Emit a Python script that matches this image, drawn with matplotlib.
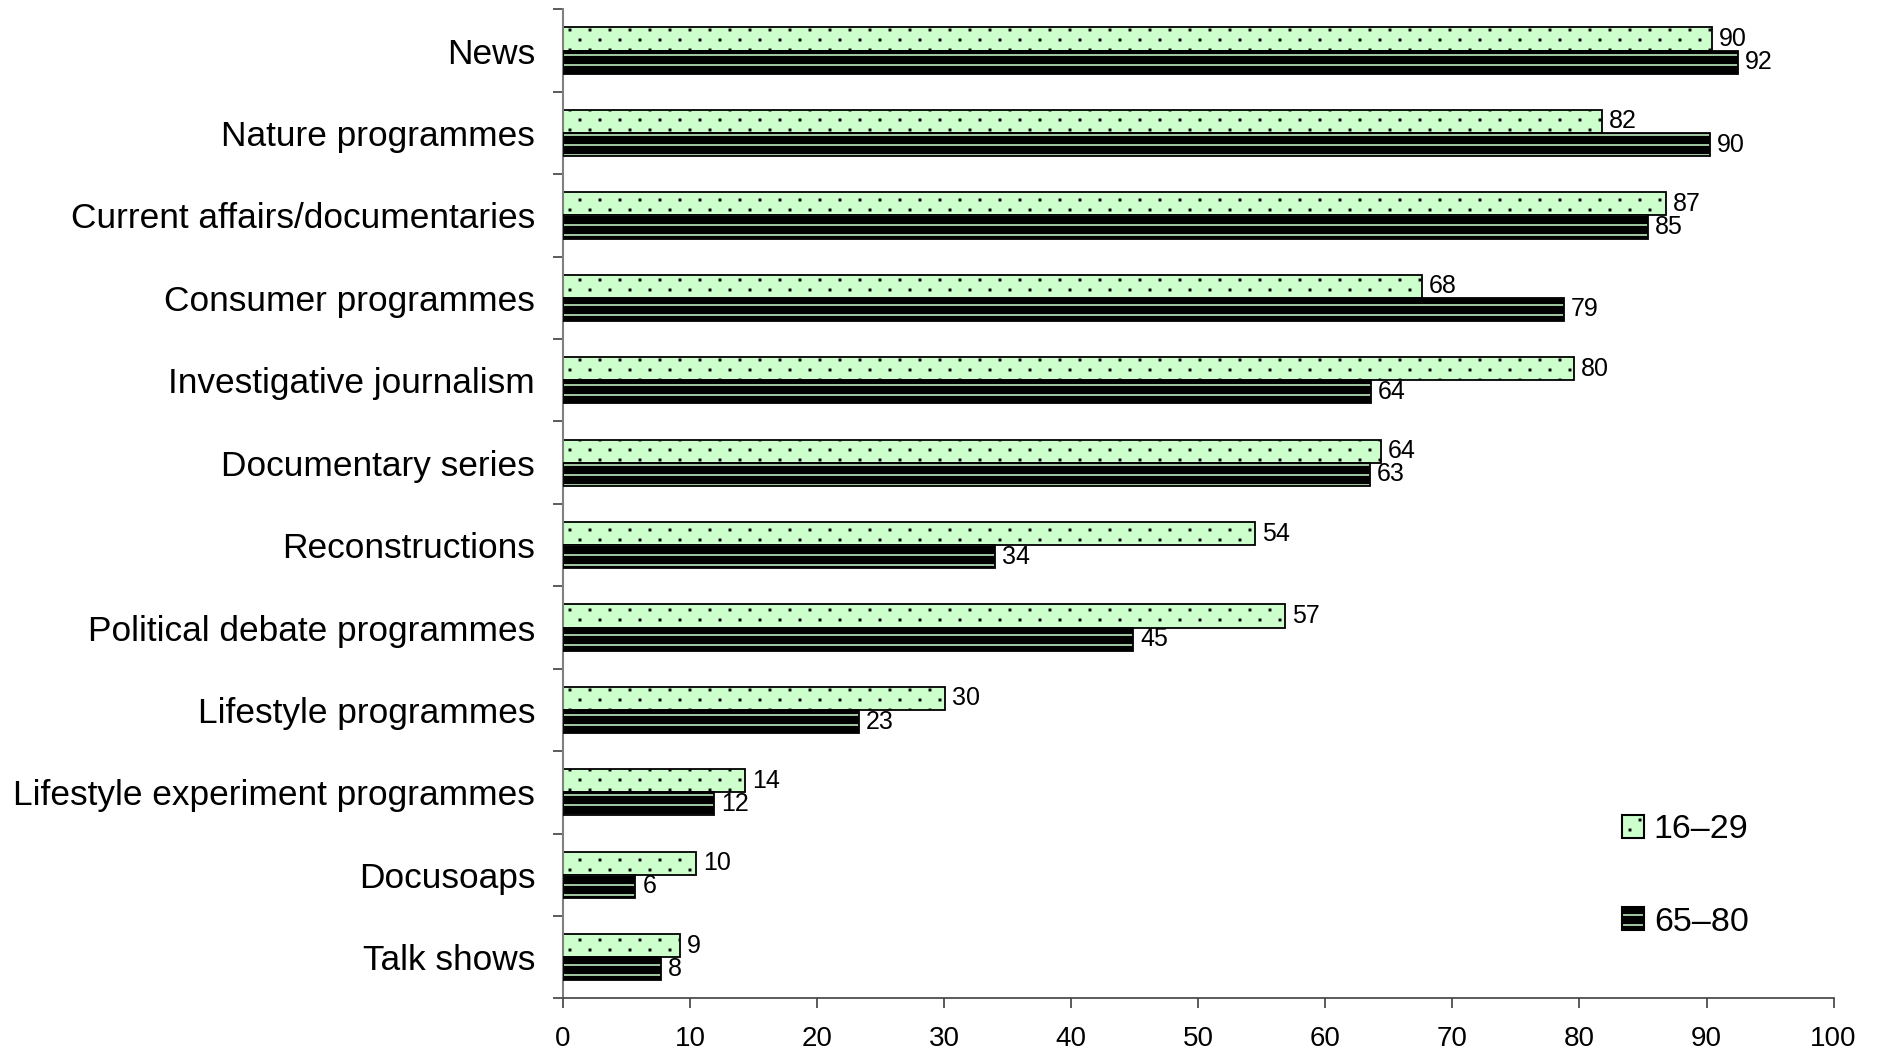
import matplotlib
matplotlib.use("Agg")
import matplotlib.pyplot as plt
import matplotlib.hatch as mhatch
from matplotlib.path import Path
from matplotlib.patches import Patch
from matplotlib.legend_handler import HandlerTuple
import numpy as np

categories = [
    "News",
    "Nature programmes",
    "Current affairs/documentaries",
    "Consumer programmes",
    "Investigative journalism",
    "Documentary series",
    "Reconstructions",
    "Political debate programmes",
    "Lifestyle programmes",
    "Lifestyle experiment programmes",
    "Docusoaps",
    "Talk shows",
]
# bar lengths
young_values = [90.4, 81.8, 86.8, 67.6, 79.6, 64.4, 54.5, 56.8, 30.1, 14.3, 10.5, 9.2]
old_values = [92.5, 90.3, 85.4, 78.8, 63.6, 63.5, 34.0, 44.9, 23.3, 11.9, 5.7, 7.7]
# printed labels
young_labels = [90, 82, 87, 68, 80, 64, 54, 57, 30, 14, 10, 9]
old_labels = [92, 90, 85, 79, 64, 63, 34, 45, 23, 12, 6, 8]
series_names = ["16\u201329", "65\u201380"]
x_ticks = list(range(0, 101, 10))


# sparse, staggered square-dot hatch (like the spreadsheet "dotted" fill)
class SparseDots(mhatch.HatchPatternBase):
    def __init__(self, hatch, density):
        self.pts = []
        if hatch.count("."):
            rows, cols = 10, 5
            for r in range(rows + 1):
                yv = r / rows
                if r % 2 == 0:
                    xs = np.linspace(0, 1, cols + 1)
                else:
                    xs = np.linspace(0.5 / cols, 1 - 0.5 / cols, cols)
                for xv in xs:
                    self.pts.append((xv, yv))
        self.num_vertices = len(self.pts) * 5

    def set_vertices_and_codes(self, vertices, codes):
        s = 0.007
        i = 0
        for (xv, yv) in self.pts:
            vertices[i:i + 5] = [(xv - s, yv - s), (xv + s, yv - s),
                                 (xv + s, yv + s), (xv - s, yv + s),
                                 (xv - s, yv - s)]
            codes[i:i + 5] = [Path.MOVETO, Path.LINETO, Path.LINETO,
                              Path.LINETO, Path.CLOSEPOLY]
            i += 5


# horizontal stripes, 10 per hatch cell
class Stripes(mhatch.HatchPatternBase):
    def __init__(self, hatch, density):
        self.num_lines = 10 if hatch.count("-") else 0
        self.num_vertices = self.num_lines * 2

    def set_vertices_and_codes(self, vertices, codes):
        steps, step = np.linspace(0.0, 1.0, self.num_lines, False, retstep=True)
        steps += step / 2.0
        vertices[0::2, 0] = 0.0
        vertices[0::2, 1] = steps
        vertices[1::2, 0] = 1.0
        vertices[1::2, 1] = steps
        codes[0::2] = Path.MOVETO
        codes[1::2] = Path.LINETO


_new_types = []
for t in mhatch._hatch_types:
    if t is mhatch.SmallFilledCircles:
        _new_types.append(SparseDots)
    elif t is mhatch.HorizontalHatch:
        _new_types.append(Stripes)
    else:
        _new_types.append(t)
mhatch._hatch_types[:] = _new_types

plt.rcParams["font.family"] = ["Liberation Sans", "DejaVu Sans"]
plt.rcParams["hatch.linewidth"] = 1.1

GREEN = "#ccffcc"

fig = plt.figure(figsize=(18.81, 10.63), dpi=100)
ax = fig.add_axes([0.2993, 0.0607, 0.9748 - 0.2993, 0.9912 - 0.0607])

y = np.arange(len(categories))
h = 0.28

ax.barh(y - h / 2, young_values, height=h, color=GREEN, edgecolor="black",
        hatch=".", linewidth=1.3, zorder=2)
ax.barh(y + h / 2, old_values, height=h, color="black", edgecolor=GREEN,
        hatch="-", linewidth=0, zorder=2)
ax.barh(y + h / 2, old_values, height=h, fill=False, edgecolor="black",
        linewidth=1.3, zorder=3)

for yi, v, lab in zip(y, young_values, young_labels):
    ax.annotate(str(lab), (v, yi - h / 2), xytext=(5, 0), textcoords="offset points",
                va="center", ha="left", fontsize=18)
for yi, v, lab in zip(y, old_values, old_labels):
    ax.annotate(str(lab), (v, yi + h / 2), xytext=(5, 0), textcoords="offset points",
                va="center", ha="left", fontsize=18)

ax.set_xlim(0, 100)
ax.set_ylim(len(categories) - 0.5, -0.5)
ax.set_xticks(x_ticks)
ax.set_xticklabels([str(t) for t in x_ticks], fontsize=20)
ax.set_yticks(y)
ax.set_yticklabels(categories, fontsize=25.4)
ax.set_yticks(np.arange(len(categories) + 1) - 0.5, minor=True)
ax.tick_params(axis="y", which="major", length=0, pad=20)
ax.tick_params(axis="y", which="minor", length=7.5, width=1.2, color="#404040")
ax.tick_params(axis="x", which="major", length=7.5, width=1.2, color="#404040", pad=12)

for s in ["top", "right"]:
    ax.spines[s].set_visible(False)
ax.spines["left"].set_color("#808080")
ax.spines["left"].set_linewidth(1.5)
ax.spines["bottom"].set_color("#404040")
ax.spines["bottom"].set_linewidth(1.2)

h_young = Patch(facecolor=GREEN, edgecolor="black", hatch=".", linewidth=1.5)
h_old = (Patch(facecolor="black", edgecolor=GREEN, hatch="-", linewidth=0),
         Patch(fill=False, edgecolor="black", linewidth=1.5))
leg = fig.legend([h_young, h_old], series_names, loc="center left",
                 bbox_to_anchor=(0.853, 0.176), frameon=False, fontsize=24.5,
                 handlelength=0.65, handleheight=0.65, handletextpad=0.3,
                 labelspacing=1.8, borderpad=0,
                 handler_map={tuple: HandlerTuple(ndivide=1, pad=0)})

fig.savefig("out.png", dpi=100)
